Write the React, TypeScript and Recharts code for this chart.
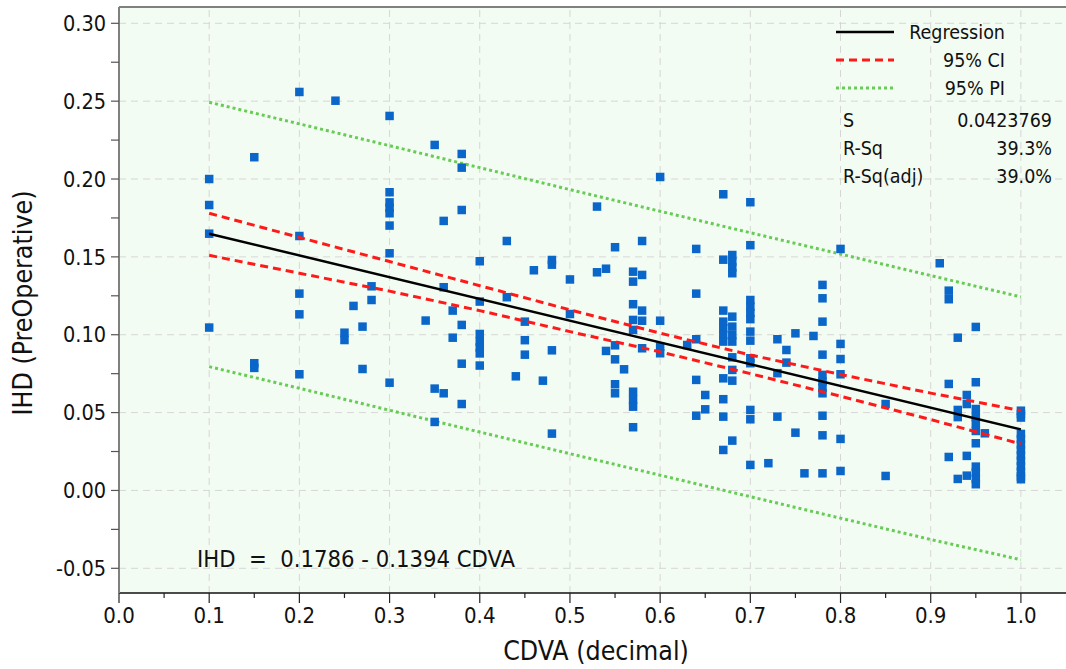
import React from 'react';
import { ScatterChart, Scatter, XAxis, YAxis, CartesianGrid, ReferenceLine } from 'recharts';

const FONT = "'DejaVu Sans Condensed', 'DejaVu Sans', sans-serif";

// CDVA levels and the IHD values observed at each level
const cdvaLevels = [0.1, 0.15, 0.2, 0.24, 0.25, 0.26, 0.27, 0.28, 0.3, 0.34, 0.35, 0.36, 0.37, 0.38, 0.4, 0.43, 0.44, 0.45, 0.46, 0.47, 0.48, 0.5, 0.53, 0.54, 0.55, 0.56, 0.57, 0.58, 0.6, 0.63, 0.64, 0.65, 0.67, 0.68, 0.7, 0.72, 0.73, 0.74, 0.75, 0.76, 0.77, 0.78, 0.8, 0.85, 0.91, 0.92, 0.93, 0.94, 0.95, 0.96, 1.0];
const ihdByLevel = [
  [0.2, 0.1833, 0.1649, 0.1046],
  [0.214, 0.0817, 0.0787],
  [0.2559, 0.1634, 0.1264, 0.1131, 0.0746],
  [0.2503],
  [0.1013, 0.0966],
  [0.1185],
  [0.1052, 0.078],
  [0.1311, 0.1223],
  [0.2405, 0.1915, 0.185, 0.1815, 0.178, 0.1701, 0.1523, 0.0692],
  [0.1091],
  [0.2219, 0.0654, 0.044],
  [0.1731, 0.1305, 0.0624],
  [0.1155, 0.0981],
  [0.2161, 0.2073, 0.1801, 0.1063, 0.0814, 0.0555],
  [0.1472, 0.1213, 0.1005, 0.0956, 0.0918, 0.088, 0.0802],
  [0.1602, 0.1241],
  [0.0733],
  [0.1084, 0.0965, 0.0872],
  [0.1414],
  [0.0705],
  [0.148, 0.145, 0.09, 0.0365],
  [0.1355, 0.1133],
  [0.1823, 0.1401],
  [0.1424, 0.0896],
  [0.1562, 0.0932, 0.0842, 0.0682, 0.0624],
  [0.0778],
  [0.1405, 0.1341, 0.1196, 0.1095, 0.1031, 0.0634, 0.0583, 0.0538, 0.0406],
  [0.1602, 0.1384, 0.1155, 0.109, 0.0913],
  [0.2013, 0.109, 0.0923, 0.0881],
  [0.0934],
  [0.1551, 0.1264, 0.0971, 0.071, 0.048],
  [0.0613, 0.0521],
  [0.1902, 0.1482, 0.1155, 0.1084, 0.1041, 0.0998, 0.0956, 0.072, 0.0586, 0.0474, 0.026],
  [0.1512, 0.147, 0.1432, 0.1395, 0.1116, 0.1052, 0.0998, 0.0956, 0.0855, 0.0774, 0.0705, 0.032],
  [0.1851, 0.1575, 0.1223, 0.118, 0.114, 0.11, 0.102, 0.0962, 0.0849, 0.0817, 0.0517, 0.0457, 0.0164],
  [0.0175],
  [0.0971, 0.0753, 0.0474],
  [0.0902, 0.0821],
  [0.1009, 0.0371],
  [0.011],
  [0.0992],
  [0.132, 0.1234, 0.1084, 0.0872, 0.0742, 0.07, 0.066, 0.0624, 0.048, 0.0354, 0.011],
  [0.1551, 0.0941, 0.0844, 0.0746, 0.0331, 0.0125],
  [0.0555, 0.0093],
  [0.1459],
  [0.1283, 0.1228, 0.0684, 0.0215],
  [0.0981, 0.0517, 0.0471, 0.0074],
  [0.0613, 0.0555, 0.0222, 0.0095],
  [0.105, 0.0695, 0.0523, 0.0471, 0.043, 0.0382, 0.0303, 0.0153, 0.0115, 0.0075, 0.004],
  [0.0367],
  [0.0512, 0.049, 0.0468, 0.0363, 0.033, 0.0295, 0.026, 0.0225, 0.019, 0.0155, 0.012, 0.009, 0.0072],
];

// Fitted line and bands
const regX = [0.1, 1.0];
const regY = [0.1649, 0.0392];
const bandX = [0.1, 0.2, 0.3, 0.4, 0.5, 0.6, 0.7, 0.8, 0.9, 1.0];
const ciUpper = [0.178, 0.1625, 0.147, 0.1315, 0.116, 0.101, 0.087, 0.0745, 0.0625, 0.0513];
const ciLower = [0.151, 0.1395, 0.128, 0.1155, 0.102, 0.089, 0.075, 0.0605, 0.0455, 0.0299];
const piUpper = [0.2493, 0.2354, 0.2214, 0.2073, 0.1932, 0.1793, 0.1655, 0.1518, 0.138, 0.1243];
const piLower = [0.0795, 0.0656, 0.0515, 0.0375, 0.0236, 0.0098, -0.004, -0.0178, -0.0315, -0.0445];

// Axis ticks
const xTicks = [0, 0.05, 0.1, 0.15, 0.2, 0.25, 0.3, 0.35, 0.4, 0.45, 0.5, 0.55, 0.6, 0.65, 0.7, 0.75, 0.8, 0.85, 0.9, 0.95, 1.0];
const xMajor = [0, 0.1, 0.2, 0.3, 0.4, 0.5, 0.6, 0.7, 0.8, 0.9, 1.0];
const yTicks = [-0.05, -0.025, 0, 0.025, 0.05, 0.075, 0.1, 0.125, 0.15, 0.175, 0.2, 0.225, 0.25, 0.275, 0.3];
const yMajor = [-0.05, 0, 0.05, 0.1, 0.15, 0.2, 0.25, 0.3];

const X_DOMAIN: [number, number] = [0, 1.05];
const Y_DOMAIN: [number, number] = [-0.06586, 0.31047];

const points = cdvaLevels.flatMap((x, i) => ihdByLevel[i].map((y) => ({ x, y })));
const toPts = (xs: number[], ys: number[]) => xs.map((x, i) => ({ x, y: ys[i] }));
const regPts = toPts(regX, regY);
const ciUpPts = toPts(bandX, ciUpper);
const ciLoPts = toPts(bandX, ciLower);
const piUpPts = toPts(bandX, piUpper);
const piLoPts = toPts(bandX, piLower);

const BLUE = '#0a66c8';
const RED = '#ff1a1a';
const GREEN = '#66cc55';

const SquareDot = (props: any) => {
  const { cx, cy } = props;
  if (cx == null || cy == null) return <g />;
  return <rect x={cx - 4.25} y={cy - 4.25} width={8.5} height={8.5} fill={BLUE} />;
};
const NoDot = () => <g />;

const XTick = (props: any) => {
  const { x, y, payload } = props;
  const v = payload.value as number;
  const major = xMajor.some((m) => Math.abs(m - v) < 1e-9);
  return (
    <g>
      <line x1={x} x2={x} y1={y} y2={y + (major ? 10 : 5)} stroke="#222" strokeWidth={1.2} />
      {major && (
        <text x={x} y={y + 30} textAnchor="middle" fontSize={22} fontFamily={FONT} fill="#111">
          {v.toFixed(1)}
        </text>
      )}
    </g>
  );
};

const YTick = (props: any) => {
  const { x, y, payload } = props;
  const v = payload.value as number;
  const major = yMajor.some((m) => Math.abs(m - v) < 1e-9);
  return (
    <g>
      <line x1={x - 8} x2={x} y1={y} y2={y} stroke="#555" strokeWidth={1.2} />
      {major && (
        <text x={x - 13} y={y} dy="0.36em" textAnchor="end" fontSize={21.5} fontFamily={FONT} fill="#111">
          {v.toFixed(2)}
        </text>
      )}
    </g>
  );
};

export default function App() {
  return (
    <div style={{ position: 'absolute', left: 0, top: 0, width: 1066, height: 669, background: '#fff' }}>
      <ScatterChart width={1066} height={669} margin={{ top: 7, right: 0, bottom: 0, left: 0 }}>
        <CartesianGrid horizontal={false} vertical={false} fill="#f3fcf2" />
        {xMajor.slice(1).map((v) => (
          <ReferenceLine key={'gx' + v} x={v} stroke="#d6d6d6" strokeDasharray="7 5" strokeWidth={1} />
        ))}
        {yMajor.map((v) => (
          <ReferenceLine key={'gy' + v} y={v} stroke="#d6d6d6" strokeDasharray="7 5" strokeWidth={1} />
        ))}
        <ReferenceLine y={Y_DOMAIN[1]} stroke="#808080" strokeWidth={2} ifOverflow="visible" />
        <XAxis
          type="number"
          dataKey="x"
          domain={X_DOMAIN}
          allowDataOverflow
          ticks={xTicks}
          interval={0}
          tickSize={0}
          tickMargin={0}
          tick={<XTick />}
          height={76}
          axisLine={{ stroke: '#111', strokeWidth: 1.5 }}
        />
        <YAxis
          type="number"
          dataKey="y"
          domain={Y_DOMAIN}
          allowDataOverflow
          ticks={yTicks}
          interval={0}
          tickSize={0}
          tickMargin={0}
          tick={<YTick />}
          width={119}
          axisLine={{ stroke: '#808080', strokeWidth: 2 }}
        />
        <Scatter data={piUpPts} shape={<NoDot />} line={{ stroke: GREEN, strokeWidth: 3, strokeDasharray: '3 3' }} isAnimationActive={false} />
        <Scatter data={piLoPts} shape={<NoDot />} line={{ stroke: GREEN, strokeWidth: 3, strokeDasharray: '3 3' }} isAnimationActive={false} />
        <Scatter data={points} shape={<SquareDot />} isAnimationActive={false} />
        <Scatter data={ciUpPts} shape={<NoDot />} line={{ stroke: RED, strokeWidth: 3, strokeDasharray: '8 5' }} isAnimationActive={false} />
        <Scatter data={ciLoPts} shape={<NoDot />} line={{ stroke: RED, strokeWidth: 3, strokeDasharray: '8 5' }} isAnimationActive={false} />
        <Scatter data={regPts} shape={<NoDot />} line={{ stroke: '#000', strokeWidth: 2.5 }} isAnimationActive={false} />
      </ScatterChart>
      <svg width={1066} height={669} style={{ position: 'absolute', left: 0, top: 0, pointerEvents: 'none' }}>
        <g fontFamily={FONT} fill="#111">
          <line x1={836} x2={894} y1={32} y2={32} stroke="#000" strokeWidth={2.5} />
          <text x={1005} y={39} textAnchor="end" fontSize={19.5}>Regression</text>
          <line x1={836} x2={894} y1={60} y2={60} stroke={RED} strokeWidth={3} strokeDasharray="8 5" />
          <text x={1005} y={67} textAnchor="end" fontSize={19.5}>95% CI</text>
          <line x1={836} x2={894} y1={88} y2={88} stroke={GREEN} strokeWidth={3} strokeDasharray="3 3" />
          <text x={1005} y={95} textAnchor="end" fontSize={19.5}>95% PI</text>
          <text x={843} y={127} fontSize={19.5}>S</text>
          <text x={1052} y={127} textAnchor="end" fontSize={19.5}>0.0423769</text>
          <text x={843} y={155} fontSize={19.5}>R-Sq</text>
          <text x={1052} y={155} textAnchor="end" fontSize={19.5}>39.3%</text>
          <text x={843} y={183} fontSize={19.5}>R-Sq(adj)</text>
          <text x={1052} y={183} textAnchor="end" fontSize={19.5}>39.0%</text>
          <text x={197} y={567} fontSize={23.6} style={{ whiteSpace: 'pre' }}>{'IHD  =  0.1786 - 0.1394 CDVA'}</text>
          <text x={596} y={660} textAnchor="middle" fontSize={26.5}>CDVA (decimal)</text>
          <text x={0} y={0} transform="translate(32,303) rotate(-90)" textAnchor="middle" fontSize={26.5}>IHD (PreOperative)</text>
        </g>
      </svg>
    </div>
  );
}
